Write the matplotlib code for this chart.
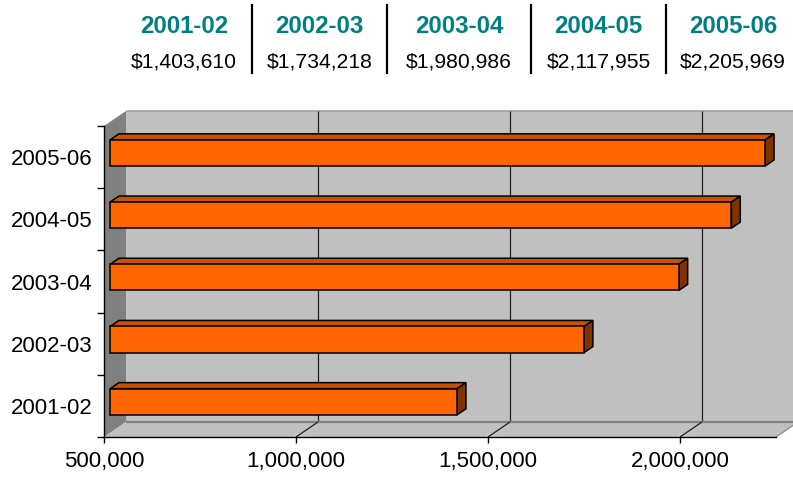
import matplotlib
matplotlib.use('Agg')
import matplotlib.pyplot as plt
from matplotlib.patches import Polygon
from matplotlib.lines import Line2D

# ---- data ----
years = ['2001-02', '2002-03', '2003-04', '2004-05', '2005-06']
values = [1403610, 1734218, 1980986, 2117955, 2205969]
x_ticks = [500000, 1000000, 1500000, 2000000]
x_min, x_max = 500000, 2250000

plt.rcParams['font.family'] = ['Liberation Sans', 'DejaVu Sans']

W, H = 793, 478
fig = plt.figure(figsize=(W / 100, H / 100), dpi=100)
L, R, B, T = 104, 776, 437, 126  # front plane in pixels (from left / top)
ax = fig.add_axes([L / W, 1 - B / H, (R - L) / W, (B - T) / H])
ax.set_xlim(x_min, x_max)
n = len(years)
ax.set_ylim(-0.5, n - 0.5)
ax.set_facecolor('none')

# depth vector (pixels) converted to data units
p = ax.transData.transform([[x_min, -0.5], [x_max, n - 0.5]])
sx = (p[1, 0] - p[0, 0]) / (x_max - x_min)
sy = (p[1, 1] - p[0, 1]) / n
DX, DY = 22 / sx, 15 / sy


def shift(pts, f):
    return [(x + f * DX, y + f * DY) for x, y in pts]


def poly(pts, fc, ec='none', lw=0.0, z=1):
    ax.add_patch(Polygon(pts, closed=True, facecolor=fc, edgecolor=ec,
                         linewidth=lw, zorder=z, clip_on=False, joinstyle='miter'))


def line(p0, p1, color, lw, z):
    ax.add_line(Line2D([p0[0], p1[0]], [p0[1], p1[1]], color=color, lw=lw,
                       zorder=z, clip_on=False, solid_capstyle='butt'))


ylo, yhi = -0.5, n - 0.5
# back wall
poly(shift([(x_min, ylo), (x_max, ylo), (x_max, yhi), (x_min, yhi)], 1), '#c0c0c0', z=1)
line(shift([(x_min, yhi)], 1)[0], shift([(x_max, yhi)], 1)[0], '#a0a0a0', 1.2, 1.1)
for t in x_ticks[1:]:
    a, b = shift([(t, ylo), (t, yhi)], 1)
    line(a, b, '#202020', 0.9, 1.2)
# left wall
poly([(x_min, ylo), (x_min, yhi)] + shift([(x_min, yhi), (x_min, ylo)], 1), '#808080', z=2)
# floor
poly([(x_min, ylo), (x_max, ylo)] + shift([(x_max, ylo), (x_min, ylo)], 1), '#c0c0c0', z=2)
line(shift([(x_min, ylo)], 1)[0], shift([(x_max, ylo)], 1)[0], '#808080', 1.6, 2.1)
line((x_max, ylo), shift([(x_max, ylo)], 1)[0], '#909090', 1.0, 2.1)
for t in x_ticks[1:]:
    line((t, ylo), shift([(t, ylo)], 1)[0], '#202020', 0.9, 2.2)

# bars
h, f0, f1 = 0.42, 0.28, 0.68
for i, v in enumerate(values):
    y0, y1 = i - h / 2, i + h / 2
    front = shift([(x_min, y0), (v, y0), (v, y1), (x_min, y1)], f0)
    top = shift([(x_min, y1), (v, y1)], f0) + shift([(v, y1), (x_min, y1)], f1)
    side = shift([(v, y0), (v, y1)], f0) + shift([(v, y1), (v, y0)], f1)
    poly(top, '#c85200', 'black', 1.1, 3)
    poly(side, '#7f3300', 'black', 1.1, 3)
    poly(front, '#ff6600', 'black', 1.1, 3.1)

# axes / ticks
for s in ['top', 'right']:
    ax.spines[s].set_visible(False)
for s in ['left', 'bottom']:
    ax.spines[s].set_color('black')
    ax.spines[s].set_linewidth(1.0)
    ax.spines[s].set_zorder(4)

ax.set_xticks(x_ticks)
ax.set_xticklabels([f'{t:,}' for t in x_ticks])
ax.tick_params(axis='x', which='major', length=4, width=1, direction='out',
               labelsize=16, pad=6)
ax.set_yticks(range(n))
ax.set_yticklabels(years)
ax.set_yticks([i - 0.5 for i in range(n + 1)], minor=True)
ax.tick_params(axis='y', which='major', length=0, labelsize=16, pad=8)
ax.tick_params(axis='y', which='minor', length=5, width=1, direction='out')

# header table
edges = [116, 252, 387, 531, 666, 800]
for k, (yr, v) in enumerate(zip(years, values)):
    cx = (edges[k] + edges[k + 1]) / 2 / W
    fig.text(cx, 1 - 33 / H, yr, ha='center', va='baseline', fontsize=17.3,
             fontweight='bold', color='#008080')
    fig.text(cx, 1 - 68 / H, f'${v:,}', ha='center', va='baseline',
             fontsize=15.2, color='black')
for e in edges[1:-1]:
    fig.add_artist(Line2D([e / W, e / W], [1 - 5 / H, 1 - 73 / H],
                          color='black', lw=1.6))

fig.savefig('out.png', dpi=100)
